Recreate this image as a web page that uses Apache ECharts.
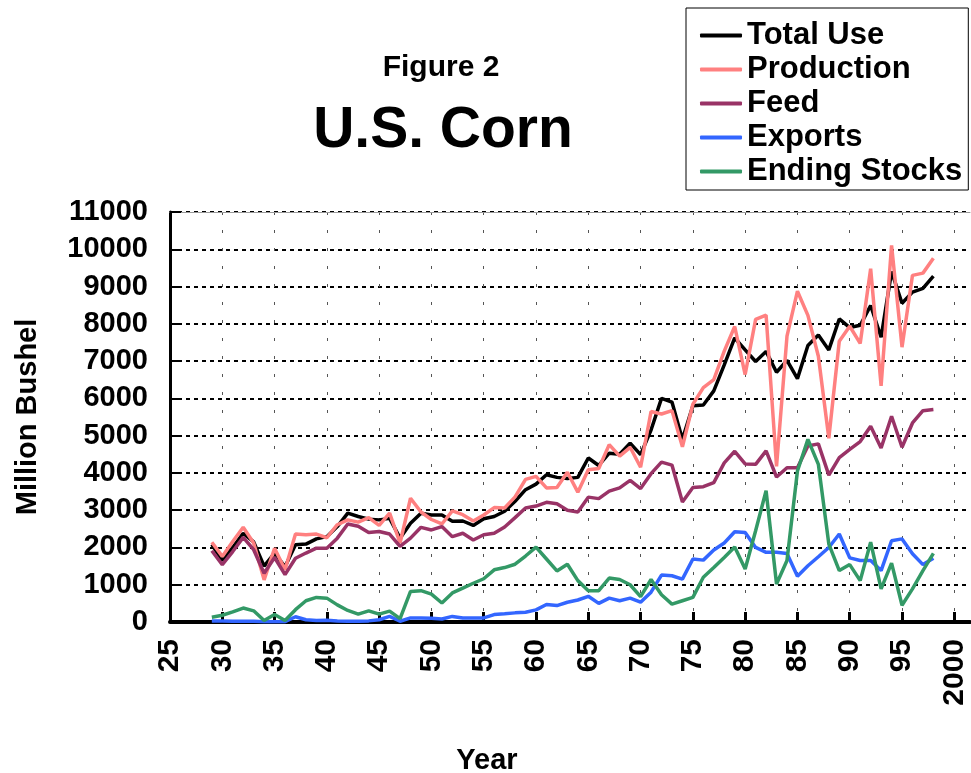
<!DOCTYPE html>
<html>
<head>
<meta charset="utf-8">
<title>U.S. Corn</title>
<script src="https://cdn.jsdelivr.net/npm/echarts@6/dist/echarts.min.js"></script>
<style>
  html, body { margin: 0; padding: 0; background: #fff; }
  #chart { width: 971px; height: 773px; }
</style>
</head>
<body>
<div id="chart"></div>
<script>
// years as two-digit values (1929 -> 29), 2000 shown at 100
const years = []
for (let y = 29; y <= 98; y++) years.push(y)

const xTicks = [25, 30, 35, 40, 45, 50, 55, 60, 65, 70, 75, 80, 85, 90, 95, 100]

const totalUse = [
  2080, 1650, 2000, 2380, 2150, 1500, 1850, 1480, 2070, 2090,
  2230, 2290, 2560, 2920, 2830, 2760, 2740, 2780, 2250, 2650,
  2920, 2870, 2870, 2700, 2710, 2590, 2770, 2830, 2970, 3240,
  3550, 3700, 3950, 3880, 3850, 3880, 4400, 4200, 4530, 4500,
  4800, 4490, 5150, 6000, 5900, 4900, 5800, 5820, 6200, 6900,
  7620, 7300, 6990, 7260, 6700, 7020, 6530, 7420, 7700, 7300,
  8130, 7900, 7960, 8490, 7640, 9400, 8550, 8850, 8950, 9280
]
const production = [
  2140, 1760, 2160, 2540, 2120, 1130, 1980, 1400, 2360, 2340,
  2360, 2260, 2610, 2740, 2680, 2800, 2590, 2920, 2120, 3320,
  2950, 2750, 2630, 2980, 2880, 2710, 2870, 3070, 3060, 3356,
  3825, 3907, 3598, 3606, 4019, 3484, 4084, 4117, 4760, 4450,
  4687, 4152, 5646, 5580, 5671, 4701, 5841, 6289, 6505, 7268,
  7928, 6639, 8119, 8235, 4174, 7672, 8875, 8226, 7131, 4929,
  7532, 7934, 7475, 9477, 6336, 10103, 7374, 9300, 9360, 9759
]
const feed = [
  1910, 1540, 1890, 2270, 1940, 1310, 1730, 1270, 1710, 1850,
  1980, 1980, 2250, 2630, 2570, 2400, 2430, 2360, 2030, 2250,
  2540, 2470, 2560, 2290, 2380, 2200, 2340, 2380, 2550, 2800,
  3060, 3110, 3210, 3170, 3000, 2950, 3350, 3310, 3510, 3600,
  3800, 3580, 3980, 4290, 4210, 3220, 3610, 3630, 3740, 4270,
  4580, 4240, 4230, 4590, 3890, 4140, 4140, 4720, 4780, 3940,
  4410, 4630, 4840, 5250, 4670, 5520, 4690, 5340, 5670, 5700
]
const exports = [
  30, 30, 20, 20, 20, 10, 5, 10, 140, 60,
  40, 50, 30, 20, 20, 30, 60, 150, 20, 110,
  110, 100, 80, 150, 110, 110, 110, 200, 220, 245,
  260, 325, 470, 440, 530, 590, 690, 500, 640, 570,
  640, 530, 800, 1260, 1240, 1150, 1690, 1660, 1930, 2120,
  2420, 2400, 2000, 1870, 1870, 1840, 1230, 1510, 1750, 2000,
  2360, 1720, 1650, 1650, 1380, 2180, 2230, 1830, 1540, 1710
]
const endingStocks = [
  130, 180, 270, 375, 300, 40, 200, 40, 330, 570,
  660, 640, 460, 310, 210, 300, 210, 290, 90, 820,
  840, 750, 510, 780, 910, 1040, 1160, 1400, 1460, 1550,
  1770, 2010, 1690, 1370, 1550, 1110, 840, 840, 1180, 1140,
  1000, 680, 1140, 730, 480, 570, 660, 1200, 1460, 1730,
  2010, 1420, 2450, 3520, 1020, 1650, 4050, 4900, 4230, 2090,
  1380, 1540, 1110, 2140, 890, 1580, 450, 890, 1380, 1840
]

const seriesDefs = [
  { name: 'Total Use', data: totalUse, color: '#000000' },
  { name: 'Production', data: production, color: '#FF8080' },
  { name: 'Feed', data: feed, color: '#993366' },
  { name: 'Exports', data: exports, color: '#3366FF' },
  { name: 'Ending Stocks', data: endingStocks, color: '#339966' }
]

const font = 'Arial, "Liberation Sans", Helvetica, sans-serif'
const chart = echarts.init(document.getElementById('chart'))

chart.setOption({
  animation: false,
  textStyle: { fontFamily: font },
  title: [
    {
      text: 'Figure 2',
      left: 436,
      top: 48,
      textAlign: 'center',
      textStyle: { fontSize: 30, fontWeight: 'bold', color: '#000', fontFamily: font }
    },
    {
      text: 'U.S. Corn',
      left: 438,
      top: 98,
      textAlign: 'center',
      textStyle: { fontSize: 57, fontWeight: 'bold', color: '#000', fontFamily: font }
    }
  ],
  legend: {
    orient: 'vertical',
    left: 686,
    top: 8,
    padding: [12, 6, 3, 14],
    itemGap: 3,
    itemWidth: 42,
    itemHeight: 4,
    icon: 'roundRect',
    borderColor: '#000',
    borderWidth: 1,
    textStyle: { fontSize: 31, fontWeight: 'bold', color: '#000', fontFamily: font },
    data: seriesDefs.map(s => s.name)
  },
  grid: { left: 170, right: 1, top: 212, bottom: 151, outerBoundsMode: 'none' },
  xAxis: [
    {
      type: 'value',
      min: 25,
      max: 101.5,
      name: 'Year',
      nameLocation: 'middle',
      nameGap: 124,
      nameTextStyle: { fontSize: 29, fontWeight: 'bold', color: '#000', padding: [0, 166, 0, 0] },
      axisLine: { lineStyle: { color: '#000', width: 4 } },
      axisTick: { inside: true, length: 10, lineStyle: { width: 3, color: '#000' }, customValues: xTicks },
      axisLabel: {
        rotate: 90,
        margin: 17,
        fontSize: 30,
        fontWeight: 'bold',
        color: '#000',
        customValues: xTicks,
        formatter: v => (v === 100 ? '2000' : String(v))
      },
      splitLine: { show: true, lineStyle: { color: '#555', width: 1, type: [3, 15] } }
    },
    {
      type: 'value',
      position: 'top',
      min: 25,
      max: 101.5,
      axisLine: { show: true, lineStyle: { color: '#999', width: 1 } },
      axisTick: { show: false },
      axisLabel: { show: false },
      splitLine: { show: false }
    }
  ],
  yAxis: {
    type: 'value',
    min: 0,
    max: 11000,
    interval: 1000,
    name: 'Million Bushel',
    nameLocation: 'middle',
    nameGap: 128,
    nameTextStyle: { fontSize: 29, fontWeight: 'bold', color: '#000' },
    axisLine: { show: true, lineStyle: { color: '#000', width: 3 } },
    axisTick: { show: true, inside: true, length: 11, lineStyle: { width: 2, color: '#000' } },
    axisLabel: { margin: 22, fontSize: 29, fontWeight: 'bold', color: '#000', formatter: v => String(v) },
    splitLine: { show: true, lineStyle: { color: '#000', width: 2, type: [4, 4] } }
  },
  series: seriesDefs.map(s => ({
    name: s.name,
    type: 'line',
    symbol: 'none',
    color: s.color,
    lineStyle: { width: 3.5, color: s.color },
    data: years.map((y, i) => [y, s.data[i]])
  }))
})
</script>
</body>
</html>
